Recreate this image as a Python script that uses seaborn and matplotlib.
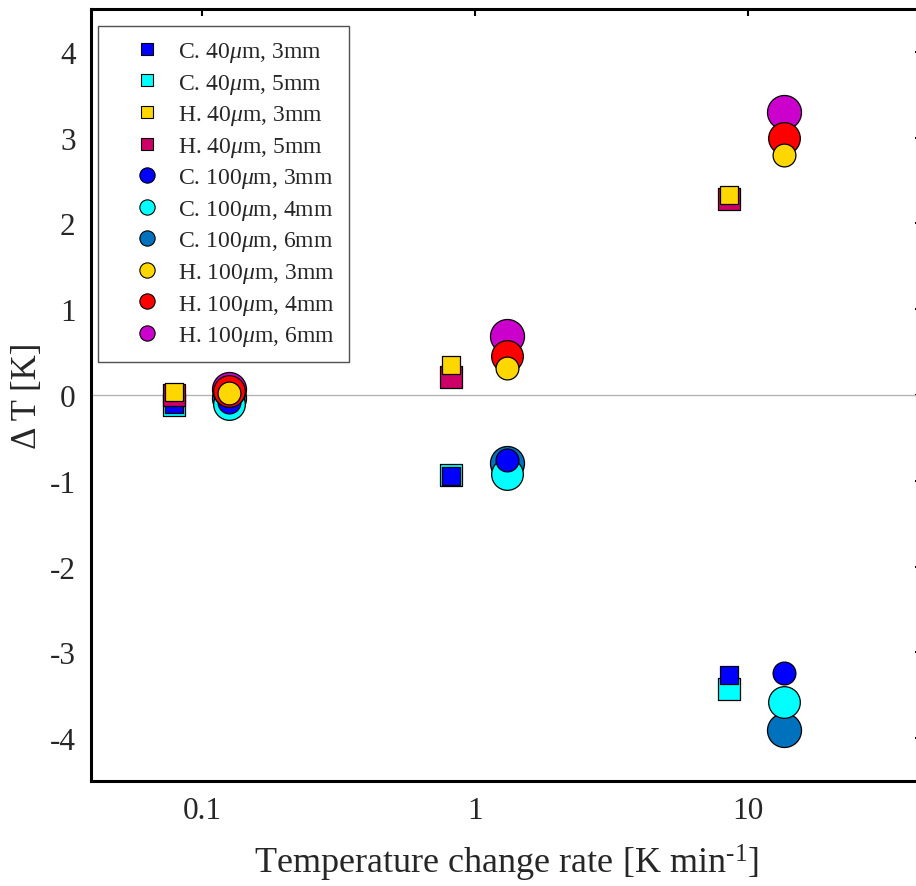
import matplotlib
matplotlib.use('Agg')
import matplotlib.pyplot as plt
from matplotlib.lines import Line2D
import seaborn as sns
import numpy as np

# x positions (rate, slightly offset per sample type)
rate_40 = [0.079, 0.82, 8.5]
rate_100 = [0.126, 1.31, 13.6]

# Delta T [K]
c40_3 = [-0.11, -0.94, -3.27]
c40_5 = [-0.12, -0.93, -3.43]
h40_3 = [0.03, 0.35, 2.33]
h40_5 = [0.00, 0.21, 2.28]
c100_3 = [-0.08, -0.76, -3.24]
c100_4 = [-0.11, -0.92, -3.58]
c100_6 = [-0.03, -0.79, -3.90]
h100_3 = [0.02, 0.31, 2.80]
h100_4 = [0.05, 0.46, 3.00]
h100_6 = [0.07, 0.69, 3.30]

labels = ["C. 40$\\mu$m, 3mm", "C. 40$\\mu$m, 5mm", "H. 40$\\mu$m, 3mm", "H. 40$\\mu$m, 5mm",
          "C. 100$\\mu$m, 3mm", "C. 100$\\mu$m, 4mm", "C. 100$\\mu$m, 6mm",
          "H. 100$\\mu$m, 3mm", "H. 100$\\mu$m, 4mm", "H. 100$\\mu$m, 6mm"]
colores = ["#0000ff", "#00ffff", "#ffd700", "#cc0066",
           "#0000ff", "#00ffff", "#0072bd",
           "#ffd700", "#ff0000", "#cc00cc"]
marcadores = ["s"] * 4 + ["o"] * 6

sns.set_style("white")
plt.rcParams['font.family'] = ['Liberation Serif', 'DejaVu Serif']
plt.rcParams['mathtext.fontset'] = 'custom'
plt.rcParams['mathtext.rm'] = 'Liberation Serif'
plt.rcParams['mathtext.it'] = 'Liberation Serif:italic'
plt.rcParams['axes.unicode_minus'] = False

fig = plt.figure(figsize=(9.16, 8.87), dpi=100)
ax = fig.add_axes([91 / 916, 1 - 782 / 887, 831 / 916, 772 / 887])

ax.axhline(0, color='#b4b4b4', lw=1.0, zorder=1)

# orden de dibujo: los mas grandes primero
series = [
    (rate_40, c40_5, 1, 230), (rate_40, c40_3, 0, 170),
    (rate_40, h40_5, 3, 230), (rate_40, h40_3, 2, 170),
    (rate_100, c100_6, 6, 600), (rate_100, c100_4, 5, 520), (rate_100, c100_3, 4, 270),
    (rate_100, h100_6, 9, 600), (rate_100, h100_4, 8, 520), (rate_100, h100_3, 7, 270),
]
for z, (xs, ys, i, s) in enumerate(series):
    sns.scatterplot(x=xs, y=ys, ax=ax, marker=marcadores[i], s=s, color=colores[i],
                    edgecolor='black', linewidth=0.9, legend=False, zorder=3 + z)

ax.set_xscale('log')
ax.set_xlim(0.0392, 43.4)
ax.set_ylim(-4.5, 4.5)
ax.set_xticks([0.1, 1, 10])
ax.set_xticklabels(["0.1", "1", "10"])
ax.minorticks_off()
ax.set_yticks(np.arange(-4, 5, 1))
ax.set_yticklabels([str(v) for v in range(-4, 5)])
ax.tick_params(direction='in', length=5, width=1.5, labelsize=22.5, pad=11,
               top=True, right=True, color='black')
for sp in ax.spines.values():
    sp.set_linewidth(2.2)
    sp.set_color('black')

ax.set_xlabel("Temperature change rate [K min$^{\\text{-1}}$]", fontsize=26, labelpad=12)
ax.set_ylabel("\u0394 T [K]", fontsize=25, labelpad=4)

handles = []
for i in range(10):
    ms = 8.5 if marcadores[i] == 's' else 11
    handles.append(Line2D([], [], marker=marcadores[i], linestyle='none',
                          markerfacecolor=colores[i], markeredgecolor='black',
                          markeredgewidth=0.8, markersize=ms))
leg = ax.legend(handles, labels, loc='upper left', bbox_to_anchor=(0.0084, 0.978),
                borderaxespad=0, fontsize=17, frameon=True, fancybox=False,
                handlelength=2.95, handletextpad=-0.16, borderpad=0.6, labelspacing=0.32)
leg.get_frame().set_edgecolor('#262626')
leg.get_frame().set_linewidth(1.0)

plt.savefig("out.png", dpi=100)
plt.close()
